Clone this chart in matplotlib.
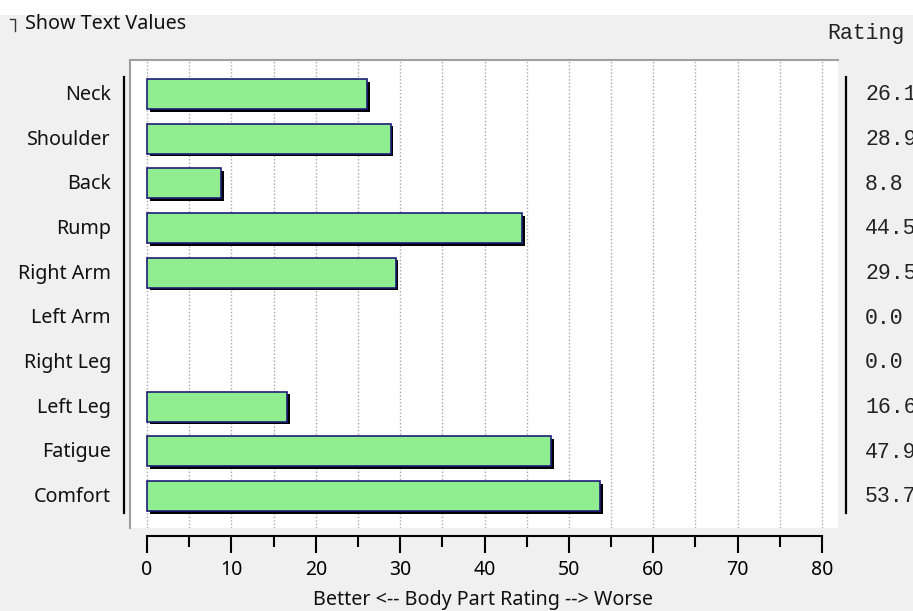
import numpy as np
import matplotlib.pyplot as plt
from matplotlib.lines import Line2D
from matplotlib.patches import Rectangle

parts = ["Neck", "Shoulder", "Back", "Rump", "Right Arm", "Left Arm",
         "Right Leg", "Left Leg", "Fatigue", "Comfort"]
ratings = [26.1, 28.9, 8.8, 44.5, 29.5, 0.0, 0.0, 16.6, 47.9, 53.7]
x_ticks = [0, 10, 20, 30, 40, 50, 60, 70, 80]
x_label = "Better <-- Body Part Rating --> Worse"

W, H = 913, 611
UI = "Noto Sans"
MONO = "Liberation Mono"


def fx(px):
    return px / W


def fy(py):
    return 1 - py / H


fig = plt.figure(figsize=(W / 100, H / 100), dpi=100)
fig.patch.set_facecolor("#f0f0f0")
# white strip at the very top of the screenshot
fig.patches.append(Rectangle((0, fy(15)), 1, 15 / H, transform=fig.transFigure,
                             facecolor="white", edgecolor="none", zorder=0))

# main white panel, pixel box 130..838 x 60..528
px_per_unit = (822 - 147) / 80
row_px = (496 - 94) / 9
ax = fig.add_axes([fx(130), fy(528), fx(838) - fx(130), (528 - 60) / H])
ax.set_facecolor("white")
ax.set_xlim(-(147 - 130) / px_per_unit, 80 + (838 - 822) / px_per_unit)
ax.set_ylim((528 - 94) / row_px, (60 - 94) / row_px)
for s in ["right", "bottom"]:
    ax.spines[s].set_visible(False)
for s in ["top", "left"]:
    ax.spines[s].set_color("#a0a0a0")
    ax.spines[s].set_linewidth(1.5)
ax.set_xticks([])
ax.set_yticks([])

for g in range(0, 85, 5):
    ax.axvline(g, color="#a8a8a8", linestyle=(0, (1, 1.5)), linewidth=1, zorder=1)

# bars (zero ratings draw nothing)
ypos = np.array([i for i, r in enumerate(ratings) if r > 0])
vals = [r for r in ratings if r > 0]
bar_h = 30 / row_px
dx = 2.5 / px_per_unit
dy = 2.5 / row_px
ax.barh(ypos + dy, vals, height=bar_h, left=dx, color="black", zorder=2)
ax.barh(ypos, vals, height=bar_h, color="#90ee90", edgecolor="#1c1c78",
        linewidth=1.2, zorder=3)

# category labels and side lines
for i, name in enumerate(parts):
    fig.text(fx(111), fy(95 + i * row_px), name, ha="right", va="center",
             fontsize=14.2, family=UI, color="#111111")
    fig.text(fx(865), fy(95 + i * row_px), f"{ratings[i]:.1f}", ha="left",
             va="center", fontsize=15.5, family=MONO, color="#222222")
fig.add_artist(Line2D([fx(124), fx(124)], [fy(77), fy(513)], color="black", lw=1.6))
fig.add_artist(Line2D([fx(846), fx(846)], [fy(77), fy(513)], color="black", lw=1.6))
fig.text(fx(827), fy(34), "Rating", ha="left", va="center", fontsize=15.5,
         family=MONO, color="#222222")

# bottom scale
axb = fig.add_axes([fx(130), fy(537), fx(838) - fx(130), 0.001])
axb.set_xlim(ax.get_xlim())
axb.patch.set_visible(False)
for s in ["left", "right", "top"]:
    axb.spines[s].set_visible(False)
axb.spines["bottom"].set_bounds(0, 80)
axb.spines["bottom"].set_linewidth(1.5)
axb.spines["bottom"].set_position(("axes", 1))
axb.set_yticks([])
axb.set_xticks(x_ticks)
axb.set_xticks(np.arange(5, 80, 10), minor=True)
axb.tick_params(axis="x", which="major", length=12, width=1.5, direction="out",
                labelsize=14, pad=5)
axb.tick_params(axis="x", which="minor", length=8, width=1.5, direction="out")
for t in axb.get_xticklabels():
    t.set_family(UI)
fig.text(fx(483), fy(600), x_label, ha="center", va="center", fontsize=14.2,
         family=UI, color="#111111")

# checkbox remnant and caption
fig.add_artist(Line2D([fx(10), fx(15), fx(15)], [fy(19), fy(19), fy(31)],
                      color="#333333", lw=1))
fig.text(fx(25), fy(24), "Show Text Values", ha="left", va="center",
         fontsize=14.2, family=UI, color="#111111")

fig.savefig("out.png", dpi=100, facecolor=fig.get_facecolor())
